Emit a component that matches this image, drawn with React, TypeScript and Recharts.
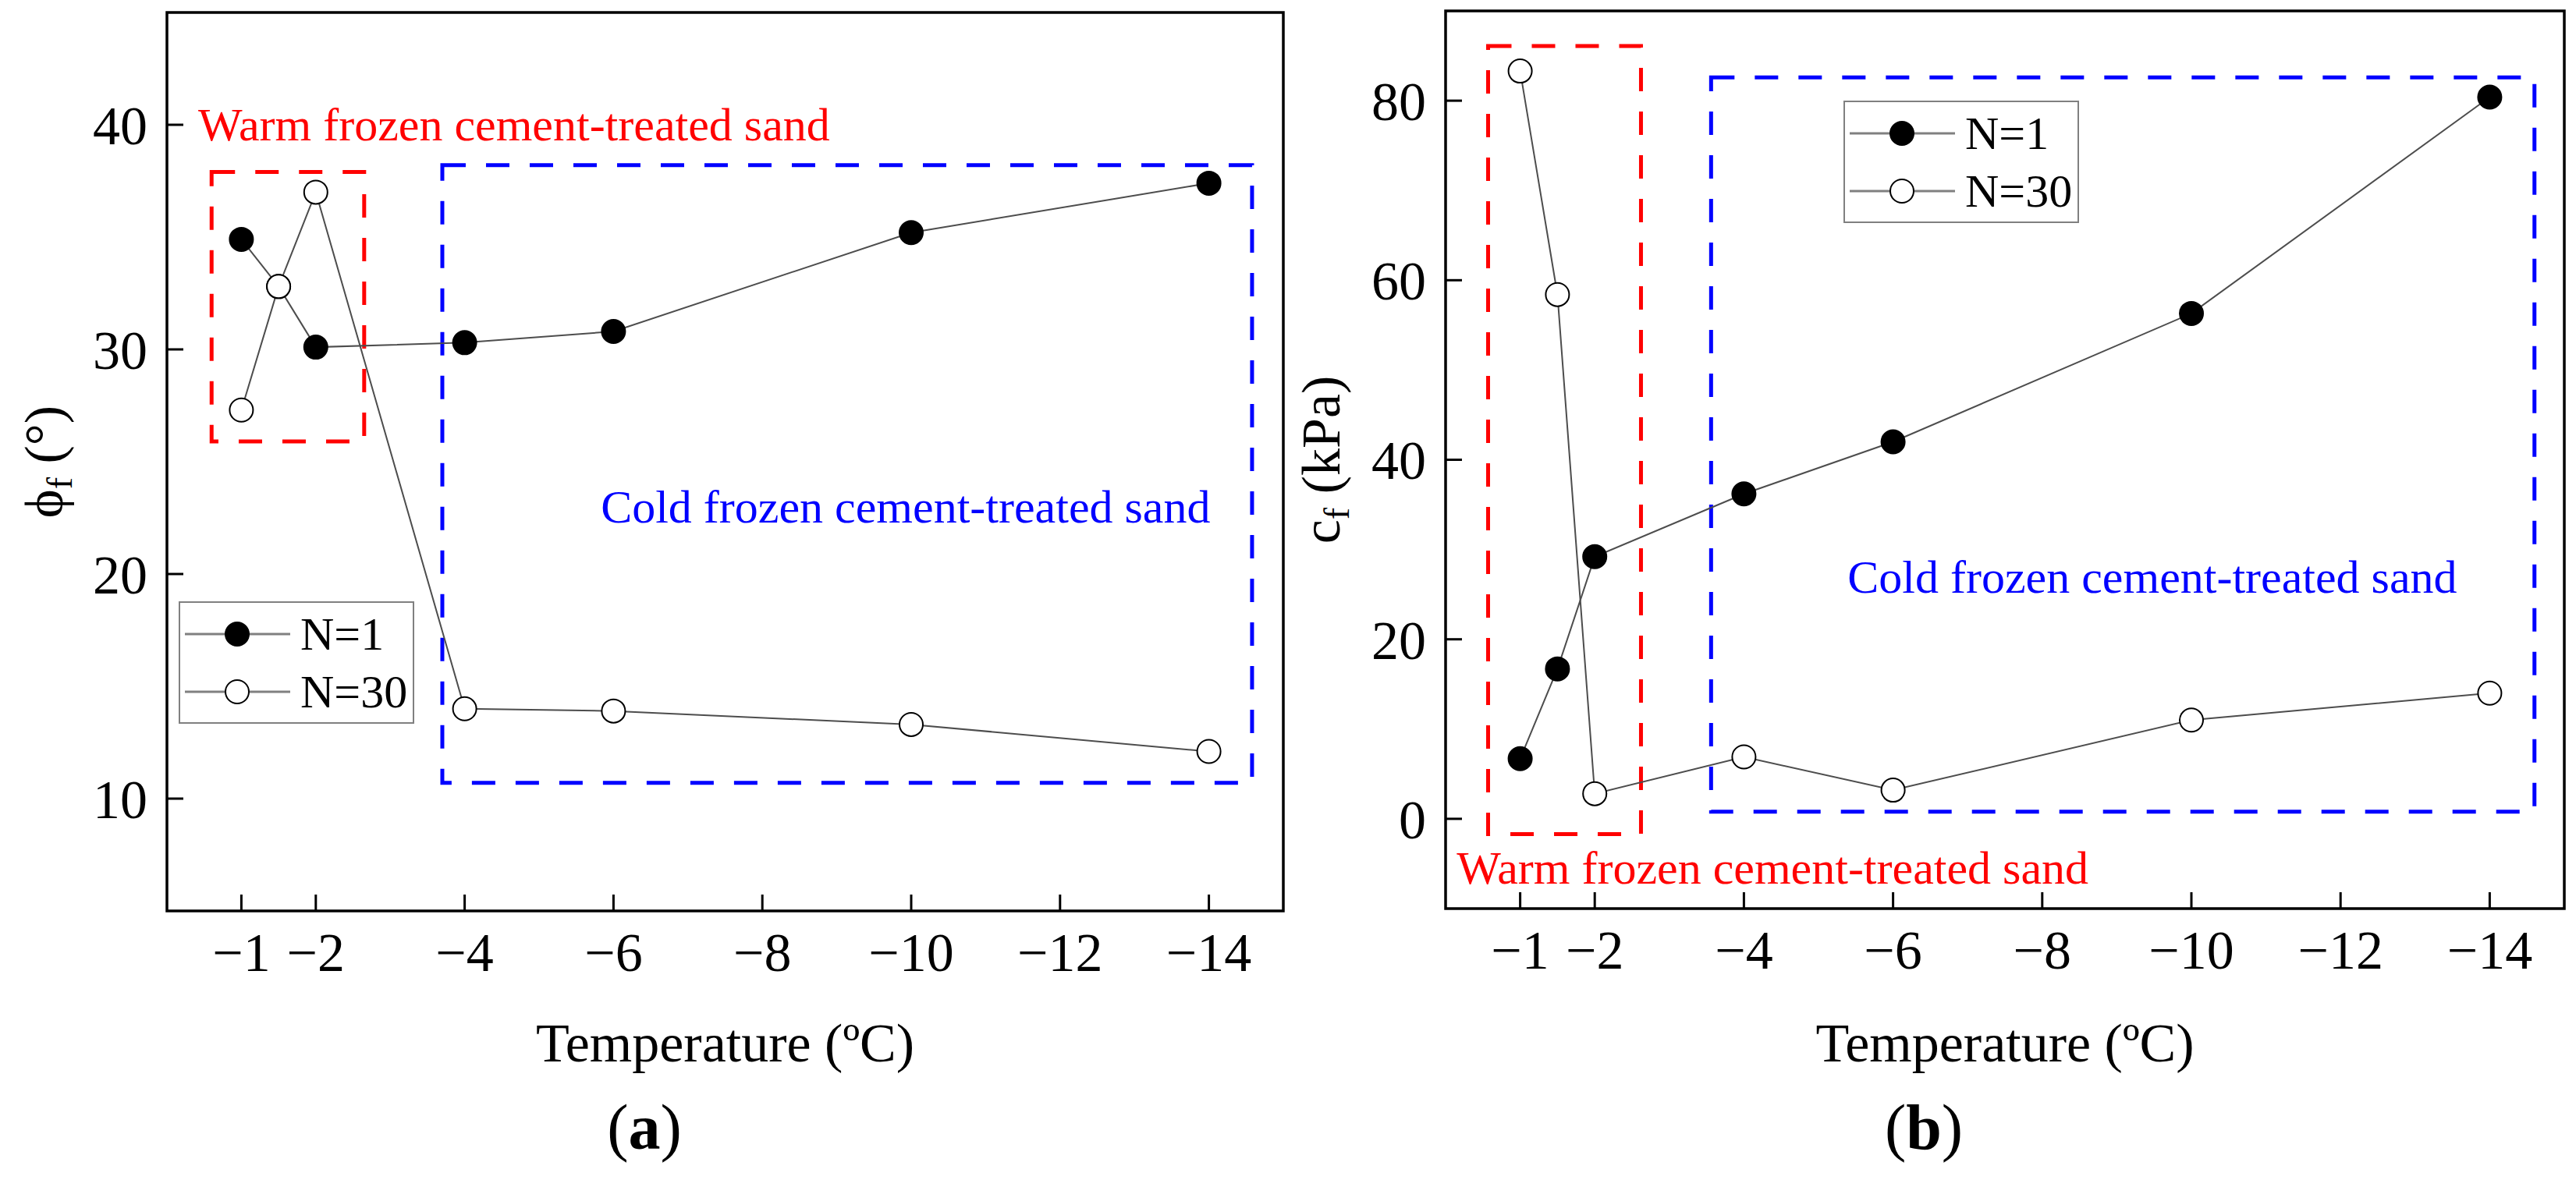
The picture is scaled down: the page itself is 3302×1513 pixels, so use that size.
import React from 'react';
import { LineChart, Line, XAxis, YAxis, ReferenceArea, ReferenceDot, Legend } from 'recharts';

// Temperature (°C) of every test, shared by both panels
const temperatures = [-1, -1.5, -2, -4, -6, -10, -14];

// (a) friction angle φf (°)
const frictionN1 = [34.9, 32.8, 30.1, 30.3, 30.8, 35.2, 37.4];
const frictionN30 = [27.3, 32.8, 37.0, 14.0, 13.9, 13.3, 12.1];

// (b) cohesion cf (kPa)
const cohesionN1 = [6.7, 16.7, 29.2, 36.2, 42.0, 56.3, 80.4];
const cohesionN30 = [83.3, 58.4, 2.8, 6.9, 3.2, 11.0, 14.0];

const temperatureTicks = [-1, -2, -4, -6, -8, -10, -12, -14];
const frictionTicks = [10, 20, 30, 40];
const cohesionTicks = [0, 20, 40, 60, 80];

const seriesNames = ['N=1', 'N=30'];
const warmText = 'Warm frozen cement-treated sand';
const coldText = 'Cold frozen cement-treated sand';

const FONT = '"Liberation Serif", "Times New Roman", serif';
const LINE_COLOR = '#4d4d4d';

const fmtTick = (v: number) => (v < 0 ? `\u2212${Math.abs(v)}` : `${v}`);

function renderLegend() {
    return (
        <svg width={302} height={157} style={{ display: 'block' }}>
            <rect x={1} y={1} width={300} height={155} fill="#fff" stroke="#808080" strokeWidth={2} />
            {seriesNames.map((name, i) => {
                const cy = i === 0 ? 42 : 116;
                return (
                    <g key={name}>
                        <line x1={8} x2={143} y1={cy} y2={cy} stroke="#808080" strokeWidth={3} />
                        <circle cx={75} cy={cy} r={15} fill={i === 0 ? '#000' : '#fff'} stroke="#000" strokeWidth={2} />
                        <text x={156} y={cy + 20} fontFamily={FONT} fontSize={60} fill="#000">{name}</text>
                    </g>
                );
            })}
        </svg>
    );
}

interface PanelProps {
    n1: number[];
    n30: number[];
    yDomain: [number, number];
    yTicks: number[];
    symbol: string;
    unit: string;
    caption: string;
    margin: { top: number; right: number; bottom: number; left: number };
    yAxisWidth: number;
    yLabelOffset: number;
    titleDy: number;
    captionDy: number;
    captionX: number;
    warmBox: [number, number, number, number];
    coldBox: [number, number, number, number];
    warmAt: [number, number];
    coldAt: [number, number];
    legendAt: [number, number];
}

function Panel(p: PanelProps) {
    const data = temperatures.map((t, i) => ({ t, n1: p.n1[i], n30: p.n30[i] }));

    const textShape = (text: string, color: string) => (props: any) => (
        <text x={props.cx} y={props.cy} fontFamily={FONT} fontSize={60} fill={color}>{text}</text>
    );

    const yLabel = (props: any) => {
        const vb = props.viewBox;
        const x = vb.x + vb.width - p.yLabelOffset;
        const y = vb.y + vb.height / 2;
        return (
            <text x={x} y={y} transform={`rotate(-90 ${x} ${y})`} textAnchor="middle"
                fontFamily={FONT} fontSize={70} fill="#000">
                {p.symbol}
                <tspan fontSize={46} dy={12}>f</tspan>
                <tspan dy={-12}>{` ${p.unit}`}</tspan>
            </text>
        );
    };

    const xLabel = (props: any) => {
        const vb = props.viewBox;
        return (
            <g>
                <text x={vb.x + vb.width / 2} y={vb.y + p.titleDy} textAnchor="middle"
                    fontFamily={FONT} fontSize={70} fill="#000">Temperature (ºC)</text>
                <text x={p.captionX} y={vb.y + p.captionDy} textAnchor="middle"
                    fontFamily={FONT} fontSize={82} fill="#000">
                    (<tspan fontWeight="bold">{p.caption}</tspan>)
                </text>
            </g>
        );
    };

    const tickStyle = { fill: '#000', fontSize: 70, fontFamily: FONT };

    return (
        <LineChart width={1651} height={1513} data={data} margin={p.margin}>
            <XAxis dataKey="t" type="number" domain={[-15, 0]} reversed ticks={temperatureTicks}
                interval={0} tickFormatter={fmtTick} tick={tickStyle} axisLine={false}
                tickLine={{ stroke: '#000', strokeWidth: 3 }} tickSize={-21} tickMargin={48}
                height={100} label={{ content: xLabel }} />
            <YAxis type="number" domain={p.yDomain} ticks={p.yTicks} interval={0}
                tickFormatter={fmtTick} tick={tickStyle} axisLine={false}
                tickLine={{ stroke: '#000', strokeWidth: 3 }} tickSize={-21} tickMargin={46}
                width={p.yAxisWidth} label={{ content: yLabel }} />

            <ReferenceArea x1={p.warmBox[0]} x2={p.warmBox[1]} y1={p.warmBox[2]} y2={p.warmBox[3]}
                fill="none" stroke="#ff0000" strokeWidth={5} strokeDasharray="30 26" />
            <ReferenceArea x1={p.coldBox[0]} x2={p.coldBox[1]} y1={p.coldBox[2]} y2={p.coldBox[3]}
                fill="none" stroke="#0000ff" strokeWidth={5} strokeDasharray="30 26" />
            <ReferenceArea x1={0} x2={-15} y1={p.yDomain[0]} y2={p.yDomain[1]}
                fill="none" stroke="#000" strokeWidth={3.5} />

            <ReferenceDot x={p.warmAt[0]} y={p.warmAt[1]} r={0} shape={textShape(warmText, '#ff0000')} />
            <ReferenceDot x={p.coldAt[0]} y={p.coldAt[1]} r={0} shape={textShape(coldText, '#0000ff')} />

            <Line dataKey="n1" name={seriesNames[0]} type="linear" stroke={LINE_COLOR} strokeWidth={2}
                dot={{ r: 15, fill: '#000', stroke: '#000', strokeWidth: 2 }} activeDot={false}
                isAnimationActive={false} />
            <Line dataKey="n30" name={seriesNames[1]} type="linear" stroke={LINE_COLOR} strokeWidth={2}
                dot={{ r: 15, fill: '#fff', stroke: '#000', strokeWidth: 2 }} activeDot={false}
                isAnimationActive={false} />

            <Legend layout="vertical" align="center" verticalAlign="middle" content={renderLegend}
                wrapperStyle={{ left: p.legendAt[0], top: p.legendAt[1], width: 302, height: 157 }} />
        </LineChart>
    );
}

export default function App() {
    return (
        <div style={{ position: 'absolute', left: 0, top: 0, width: 3302, height: 1513, background: '#fff', display: 'flex' }}>
            <Panel n1={frictionN1} n30={frictionN30} yDomain={[5, 45]} yTicks={frictionTicks}
                symbol={'\u03D5'} unit="(°)" caption="a"
                margin={{ top: 16, right: 6, bottom: 245, left: 14 }} yAxisWidth={200} yLabelOffset={134}
                titleDy={193} captionDy={305} captionX={826}
                warmBox={[-0.6, -2.65, 25.9, 37.9]} coldBox={[-3.7, -14.58, 10.7, 38.2]}
                warmAt={[-0.42, 39.3]} coldAt={[-5.83, 22.3]} legendAt={[229, 771]} />
            <Panel n1={cohesionN1} n30={cohesionN30} yDomain={[-10, 90]} yTicks={cohesionTicks}
                symbol="c" unit="(kPa)" caption="b"
                margin={{ top: 14, right: 15, bottom: 248, left: 12 }} yAxisWidth={190} yLabelOffset={136}
                titleDy={196} captionDy={308} captionX={815}
                warmBox={[-0.57, -2.62, -1.7, 86.1]} coldBox={[-3.56, -14.6, 0.8, 82.6]}
                warmAt={[-0.15, -7.2]} coldAt={[-5.39, 25.2]} legendAt={[712, 129]} />
        </div>
    );
}
